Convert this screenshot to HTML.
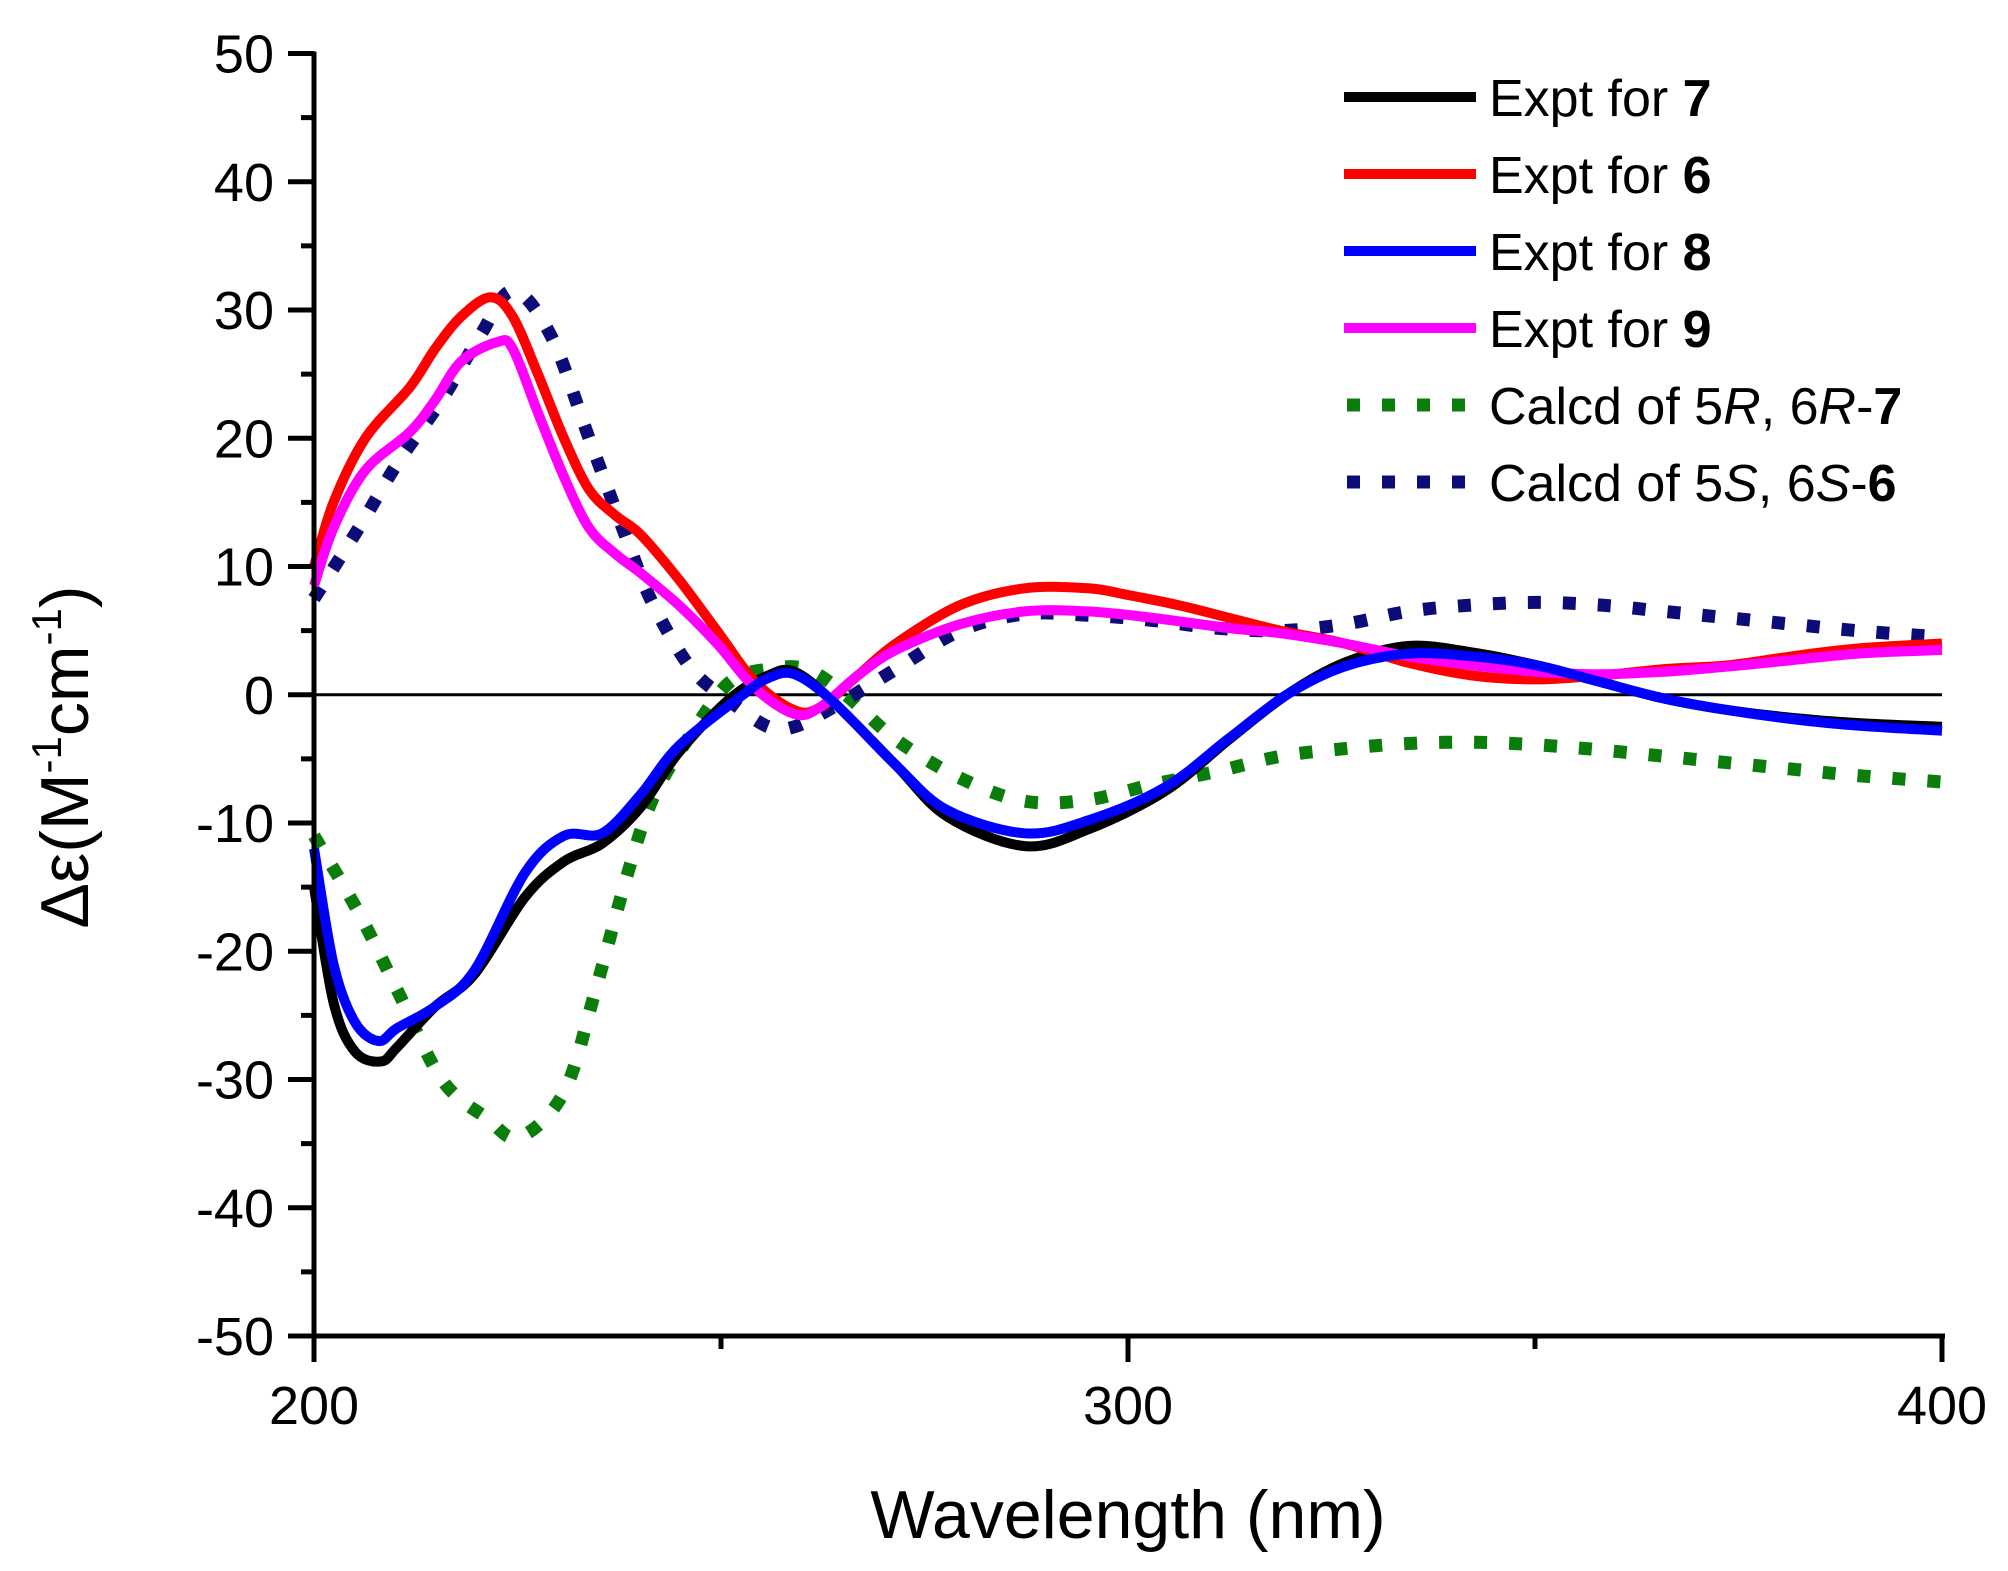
<!DOCTYPE html>
<html><head><meta charset="utf-8"><style>
html,body{margin:0;padding:0;background:#fff;}
svg{display:block;font-family:"Liberation Sans",Arial,sans-serif;}
</style></head><body>
<svg id="chart" width="2008" height="1571" viewBox="0 0 2008 1571" xmlns="http://www.w3.org/2000/svg">
<g id="plot"></g>
<g id="axes"></g>
<g id="legend"></g>
<text x="1128" y="1538" font-size="68" text-anchor="middle">Wavelength (nm)</text>
<text transform="translate(88,757) rotate(-90)" font-size="68" text-anchor="middle">Δε(M<tspan font-size="42" dy="-27">-1</tspan><tspan dy="27">cm</tspan><tspan font-size="42" dy="-27">-1</tspan><tspan dy="27">)</tspan></text>
</svg>
<script>
const xTicks = [200, 300, 400];
const xMinor = [250, 350];
const yTicks = [50, 40, 30, 20, 10, 0, -10, -20, -30, -40, -50];
const yMinor = [45, 35, 25, 15, 5, -5, -15, -25, -35, -45];

const blackX = [200,202.4,205,208.2,210.2,214.9,219.7,225.9,230.7,235.4,240.1,244.8,251.1,255.8,259,263.7,271.5,277.8,287.3,295.1,304.6,312.4,319.5,326.6,334.4,342.3,350.2,358,365.9,373.7,381.6,389.5,400];
const blackY = [-15,-24,-27.8,-28.6,-27.5,-24.3,-21.8,-15.8,-13,-11.6,-8.8,-4.5,-0.3,1.5,1.8,-0.5,-5.5,-9.5,-11.8,-10.5,-7.5,-3.5,0,2.5,3.8,3.3,2.3,1.0,-0.3,-1.2,-1.8,-2.2,-2.5];
const blueX = [200,202.4,205,207.9,210.2,214.9,219.7,225.9,230.7,235.4,240.1,244.8,252.7,255.8,259,263.7,271.5,277.8,287.3,295.1,304.6,312.4,319.5,326.6,334.4,342.3,350.2,358,365.9,373.7,381.6,389.5,400];
const blueY = [-12,-21,-25.5,-27,-26,-24.3,-21.5,-13.9,-11,-10.8,-7.8,-4,0,1.3,1.6,-0.5,-5.5,-9,-10.8,-9.8,-7.2,-3.4,0,2.2,3.2,3,2.3,1.0,-0.3,-1.2,-1.9,-2.4,-2.8];
const redX = [200,202.4,206.3,211.8,214.9,218.1,221.7,224.4,227.5,230.7,233.8,237,240.1,244.8,249.5,254.2,259,262.1,266.8,271.5,279.4,287.3,295.1,299.8,306.1,312.4,318.7,326.6,334.4,342.3,350.2,358,365.9,373.7,381.6,389.5,400];
const redY = [10,15,20,24,27,29.5,31,29.5,25,20,16,14,12.5,9,5,1,-1.2,-1,1.5,4,7,8.3,8.3,7.8,7,6,5,4,2.5,1.5,1.2,1.5,2,2.3,3,3.6,4];
const magX = [200,202.4,206.3,211.8,214.9,218.1,222.5,224.4,227.5,230.7,233.8,237,240.1,244.8,249.5,254.2,259,262.1,266.8,271.5,279.4,287.3,295.1,303,312.4,318.7,326.6,334.4,342.3,350.2,358,365.9,373.7,381.6,389.5,400];
const magY = [8.5,13,17.5,20.5,23,26,27.5,27,22,17,13,11,9.5,7,4,0.5,-1.5,-1,1.5,3.5,5.5,6.5,6.5,6,5.2,4.8,4,3,2.3,1.8,1.6,1.8,2.2,2.7,3.2,3.5];
const greenX = [200,205.5,210.2,215.7,221.2,225.2,230.7,234.6,238.5,241.7,246.4,251.1,255.8,260.5,265.3,271.5,279.4,287.3,295.1,303,310.8,318.7,326.6,334.4,342.3,350.2,358,365.9,373.7,381.6,389.5,400];
const greenY = [-11,-17,-23,-30,-33,-34.5,-31,-23,-14,-8,-3,1,2,2,0,-3.5,-6.5,-8.3,-8.2,-7,-6,-4.8,-4.2,-3.8,-3.7,-3.9,-4.3,-4.8,-5.3,-5.8,-6.3,-6.8];
const navyX = [200,205.5,210.2,215.7,220.4,224.4,229.1,233.8,238.5,241.7,246.4,251.1,255.8,259,263.7,271.5,279.4,287.3,295.1,303,310.8,318.7,326.6,334.4,342.3,350.2,358,365.9,373.7,381.6,389.5,400];
const navyY = [7.5,13,18,23,28,31.5,28,20,12,7,2,-0.5,-2.5,-2.5,-1,2,5,6.3,6.2,5.8,5.2,5,5.5,6.5,7,7.2,7,6.5,6,5.5,5,4.5];

const X0=314, X1=1942, Y0=53.5, Y1=1336;
function sx(v){return X0+(v-200)/200*(X1-X0);}
function sy(v){return Y0+(50-v)/100*(Y1-Y0);}
const NS='http://www.w3.org/2000/svg';
function mk(tag,attrs,parent){const e=document.createElementNS(NS,tag);for(const k in attrs)e.setAttribute(k,attrs[k]);parent.appendChild(e);return e;}
function pathD(xs,ys){
  const p=xs.map((x,i)=>[sx(x),sy(ys[i])]);
  let d='M'+p[0][0].toFixed(1)+','+p[0][1].toFixed(1);
  for(let i=0;i<p.length-1;i++){
    const p0=p[Math.max(i-1,0)],p1=p[i],p2=p[i+1],p3=p[Math.min(i+2,p.length-1)];
    const c1=[p1[0]+(p2[0]-p0[0])/6,p1[1]+(p2[1]-p0[1])/6];
    const c2=[p2[0]-(p3[0]-p1[0])/6,p2[1]-(p3[1]-p1[1])/6];
    d+=' C'+c1[0].toFixed(1)+','+c1[1].toFixed(1)+' '+c2[0].toFixed(1)+','+c2[1].toFixed(1)+' '+p2[0].toFixed(1)+','+p2[1].toFixed(1);
  }
  return d;
}
const plot=document.getElementById('plot');
const axes=document.getElementById('axes');
const legend=document.getElementById('legend');

const zl=mk('line',{x1:X0,x2:X1,y1:sy(0),y2:sy(0),stroke:'#000','stroke-width':3},plot);



const series=[
 {xs:greenX,ys:greenY,color:'#0a7d0a',dash:true,name:'series-calcd-5r6r-7'},
 {xs:navyX,ys:navyY,color:'#0c0c78',dash:true,name:'series-calcd-5s6s-6'},
 {xs:blackX,ys:blackY,color:'#000000',dash:false,name:'series-expt-7'},
 {xs:redX,ys:redY,color:'#ff0000',dash:false,name:'series-expt-6'},
 {xs:magX,ys:magY,color:'#ff00ff',dash:false,name:'series-expt-9'},
 {xs:blueX,ys:blueY,color:'#0000ff',dash:false,name:'series-expt-8'}
];
series.forEach(s=>{
  const a={d:pathD(s.xs,s.ys),fill:'none',stroke:s.color,'stroke-width':s.dash?13:10,'stroke-linejoin':'round'};
  if(s.dash){a['stroke-dasharray']='13 22';}
  const el=mk('path',a,plot);
  
  
});

const ya=mk('line',{x1:X0,x2:X0,y1:Y0-2,y2:Y1+3,stroke:'#000','stroke-width':5},axes);


const xa=mk('line',{x1:X0-2,x2:X1+3,y1:Y1,y2:Y1,stroke:'#000','stroke-width':5},axes);



yTicks.forEach(v=>{
  const t=mk('line',{x1:X0-26,x2:X0,y1:sy(v),y2:sy(v),stroke:'#000','stroke-width':5},axes);
  
  
  const l=mk('text',{x:X0-40,y:sy(v)+19,'font-size':54,'text-anchor':'end'},axes);
  l.textContent=String(v);
  
  
});
yMinor.forEach(v=>{
  const t=mk('line',{x1:X0-13,x2:X0,y1:sy(v),y2:sy(v),stroke:'#000','stroke-width':5},axes);
  
  
});
xTicks.forEach(v=>{
  const t=mk('line',{x1:sx(v),x2:sx(v),y1:Y1,y2:Y1+26,stroke:'#000','stroke-width':5},axes);
  
  
  const l=mk('text',{x:sx(v),y:Y1+88,'font-size':54,'text-anchor':'middle'},axes);
  l.textContent=String(v);
  
  
});
xMinor.forEach(v=>{
  const t=mk('line',{x1:sx(v),x2:sx(v),y1:Y1,y2:Y1+13,stroke:'#000','stroke-width':5},axes);
  
  
});

const legItems=[
 {color:'#000000',dash:false,html:'Expt for <tspan font-weight="bold">7</tspan>'},
 {color:'#ff0000',dash:false,html:'Expt for <tspan font-weight="bold">6</tspan>'},
 {color:'#0000ff',dash:false,html:'Expt for <tspan font-weight="bold">8</tspan>'},
 {color:'#ff00ff',dash:false,html:'Expt for <tspan font-weight="bold">9</tspan>'},
 {color:'#0a7d0a',dash:true,html:'Calcd of 5<tspan font-style="italic">R</tspan>, 6<tspan font-style="italic">R</tspan>-<tspan font-weight="bold">7</tspan>'},
 {color:'#0c0c78',dash:true,html:'Calcd of 5<tspan font-style="italic">S</tspan>, 6<tspan font-style="italic">S</tspan>-<tspan font-weight="bold">6</tspan>'}
];
legItems.forEach((it,i)=>{
  const y=97+i*77;
  const a={x1:1344,x2:1476,y1:y,y2:y,stroke:it.color,'stroke-width':it.dash?13:10};
  if(it.dash){a['stroke-dasharray']='13 22';a.x1=1347;}
  const ln=mk('line',a,legend);
  
  
  const tx=mk('text',{x:1489,y:y+19,'font-size':52},legend);
  tx.innerHTML=it.html;
  
  
});
</script>
</body></html>
